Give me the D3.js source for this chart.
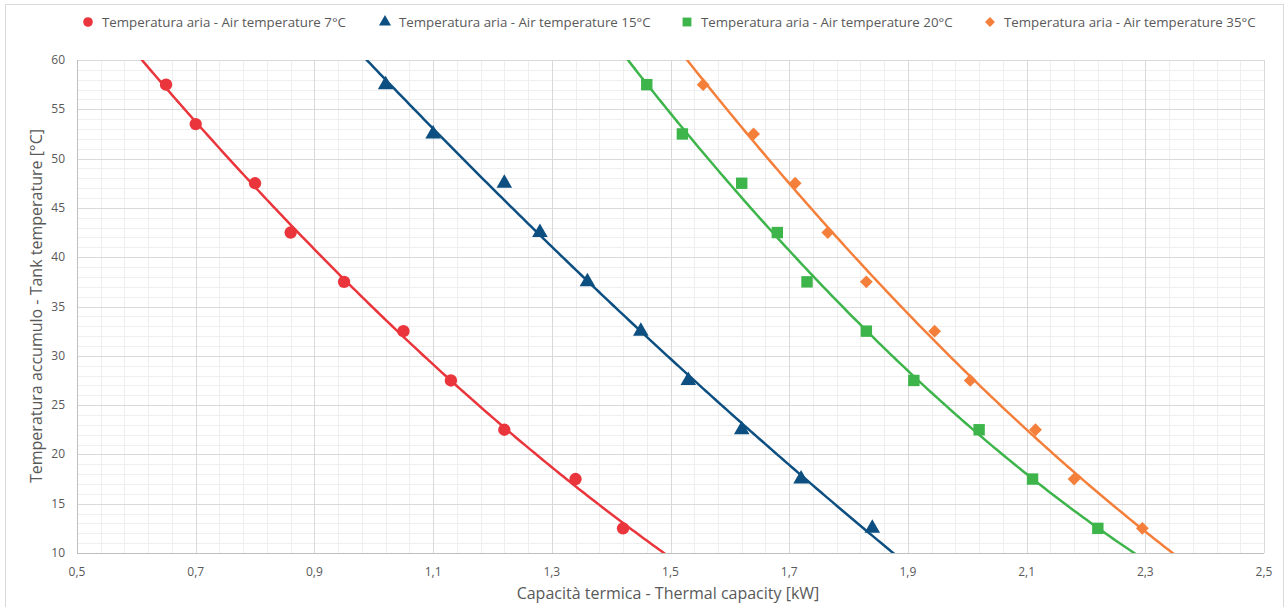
<!DOCTYPE html>
<meta charset="utf-8">
<style>
body { margin: 0; background: #fff; }
text { font-family: "Open Sans", "Noto Sans", sans-serif; fill: #595959; }
.minor line { stroke: #efefef; stroke-width: 1px; }
.major line { stroke: #d9d9d9; stroke-width: 1px; }
</style>
<svg width="1288" height="607"></svg>
<script src="https://cdn.jsdelivr.net/npm/d3@7"></script>
<script>

const tankTemps = [57.5, 53.5, 47.5, 42.5, 37.5, 32.5, 27.5, 22.5, 17.5, 12.5];
const tankTempsB = [57.5, 52.5, 47.5, 42.5, 37.5, 32.5, 27.5, 22.5, 17.5, 12.5];
const cap7 = [0.65, 0.70, 0.80, 0.86, 0.95, 1.05, 1.13, 1.22, 1.34, 1.42];
const cap15 = [1.02, 1.10, 1.22, 1.28, 1.36, 1.45, 1.53, 1.62, 1.72, 1.84];
const cap20 = [1.46, 1.52, 1.62, 1.68, 1.73, 1.83, 1.91, 2.02, 2.11, 2.22];
const cap35 = [1.555, 1.64, 1.71, 1.765, 1.83, 1.945, 2.005, 2.115, 2.18, 2.295];
const seriesNames = ["Temperatura aria - Air temperature 7°C", "Temperatura aria - Air temperature 15°C",
  "Temperatura aria - Air temperature 20°C", "Temperatura aria - Air temperature 35°C"];
const colours = ["#e9353b", "#0d4f80", "#3db54b", "#f47f3b"];
const xTicks = [0.5, 0.7, 0.9, 1.1, 1.3, 1.5, 1.7, 1.9, 2.1, 2.3, 2.5];
const yTicks = [10, 15, 20, 25, 30, 35, 40, 45, 50, 55, 60];

const series = [
  {name: seriesNames[0], x: cap7, y: tankTemps, symbol: d3.symbolCircle, size: 120, rot: 0},
  {name: seriesNames[1], x: cap15, y: tankTempsB, symbol: d3.symbolTriangle, size: 105, rot: 0},
  {name: seriesNames[2], x: cap20, y: tankTempsB, symbol: d3.symbolSquare, size: 130, rot: 0},
  {name: seriesNames[3], x: cap35, y: tankTempsB, symbol: d3.symbolSquare, size: 82, rot: 45}
];

const svg = d3.select("svg");
const pLeft = 77, pRight = 1264, pTop = 60, pBottom = 553;

const x = d3.scaleLinear().domain([0.5, 2.5]).range([pLeft, pRight]);
const y = d3.scaleLinear().domain([10, 60]).range([pBottom, pTop]);

// outer frame
svg.append("rect").attr("x", 5.5).attr("y", 4.5).attr("width", 1278).attr("height", 610)
  .attr("fill", "none").attr("stroke", "#d9d9d9");

// grid
const minorX = d3.range(0.5, 2.5001, 0.04), minorY = d3.range(10, 60.001, 1);
svg.append("g").attr("class", "minor").selectAll("line").data(minorX).join("line")
  .attr("x1", d => Math.round(x(d)) + 0.5).attr("x2", d => Math.round(x(d)) + 0.5)
  .attr("y1", pTop).attr("y2", pBottom);
svg.append("g").attr("class", "minor").selectAll("line").data(minorY).join("line")
  .attr("y1", d => Math.round(y(d)) + 0.5).attr("y2", d => Math.round(y(d)) + 0.5)
  .attr("x1", pLeft).attr("x2", pRight);
svg.append("g").attr("class", "major").selectAll("line").data(xTicks).join("line")
  .attr("x1", d => Math.round(x(d)) + 0.5).attr("x2", d => Math.round(x(d)) + 0.5)
  .attr("y1", pTop).attr("y2", pBottom);
svg.append("g").attr("class", "major").selectAll("line").data(yTicks).join("line")
  .attr("y1", d => Math.round(y(d)) + 0.5).attr("y2", d => Math.round(y(d)) + 0.5)
  .attr("x1", pLeft).attr("x2", pRight);

// axis lines
svg.append("line").attr("x1", pLeft).attr("x2", pRight).attr("y1", pBottom + 0.5).attr("y2", pBottom + 0.5)
  .attr("stroke", "#bfbfbf");
svg.append("line").attr("x1", pLeft + 0.5).attr("x2", pLeft + 0.5).attr("y1", pTop).attr("y2", pBottom)
  .attr("stroke", "#bfbfbf");

const fmt = d => d3.format(".1f")(d).replace(".", ",");
svg.append("g").selectAll("text").data(xTicks).join("text")
  .attr("x", d => x(d)).attr("y", pBottom + 23).attr("text-anchor", "middle")
  .attr("font-size", 12).text(fmt);
svg.append("g").selectAll("text").data(yTicks).join("text")
  .attr("x", pLeft - 12).attr("y", d => y(d) + 4).attr("text-anchor", "end")
  .attr("font-size", 12).text(d => d);

svg.append("text").attr("x", 668).attr("y", 599).attr("text-anchor", "middle")
  .attr("font-size", 16).text("Capacità termica - Thermal capacity [kW]");
svg.append("text").attr("transform", "translate(42,306) rotate(-90)").attr("text-anchor", "middle")
  .attr("font-size", 16).text("Temperatura accumulo - Tank temperature [°C]");

// quadratic least squares trendline y = a + b x + c x^2
function polyFit(xs, ys) {
  const n = xs.length;
  let s = [0, 0, 0, 0, 0], t = [0, 0, 0];
  for (let i = 0; i < n; i++) {
    for (let k = 0; k < 5; k++) s[k] += Math.pow(xs[i], k);
    for (let k = 0; k < 3; k++) t[k] += ys[i] * Math.pow(xs[i], k);
  }
  const m = [[s[0], s[1], s[2], t[0]], [s[1], s[2], s[3], t[1]], [s[2], s[3], s[4], t[2]]];
  for (let i = 0; i < 3; i++) {
    for (let j = i + 1; j < 3; j++) {
      const f = m[j][i] / m[i][i];
      for (let k = i; k < 4; k++) m[j][k] -= f * m[i][k];
    }
  }
  const c = [0, 0, 0];
  for (let i = 2; i >= 0; i--) {
    let v = m[i][3];
    for (let k = i + 1; k < 3; k++) v -= m[i][k] * c[k];
    c[i] = v / m[i][i];
  }
  return c;
}

svg.append("defs").append("clipPath").attr("id", "plot")
  .append("rect").attr("x", pLeft).attr("y", pTop).attr("width", pRight - pLeft).attr("height", pBottom - pTop);

const plot = svg.append("g").attr("clip-path", "url(#plot)");
const line = d3.line().x(d => x(d[0])).y(d => y(d[1]));

series.forEach((s, i) => {
  const c = polyFit(s.x, s.y);
  const pts = d3.range(0.5, 2.5001, 0.005).map(v => [v, c[0] + c[1] * v + c[2] * v * v]);
  plot.append("path").datum(pts).attr("d", line).attr("fill", "none")
    .attr("stroke", colours[i]).attr("stroke-width", 2.5);
});

series.forEach((s, i) => {
  const sym = d3.symbol().type(s.symbol).size(s.size);
  svg.append("g").selectAll("path").data(s.x).join("path")
    .attr("transform", (d, j) => "translate(" + x(d) + "," + y(s.y[j]) + ") rotate(" + s.rot + ")")
    .attr("d", sym).attr("fill", colours[i]);
});

// legend
const legendX = [88, 385, 687, 990];
const legend = svg.append("g").selectAll("g").data(series).join("g")
  .attr("transform", (d, i) => "translate(" + legendX[i] + ",22)");
legend.append("path").attr("d", d => d3.symbol().type(d.symbol).size(d.size * 0.6)())
  .attr("transform", d => "rotate(" + d.rot + ")")
  .attr("fill", (d, i) => colours[i]);
legend.append("text").attr("x", 14).attr("y", 4.5).attr("font-size", 13.3).text(d => d.name);

</script>
